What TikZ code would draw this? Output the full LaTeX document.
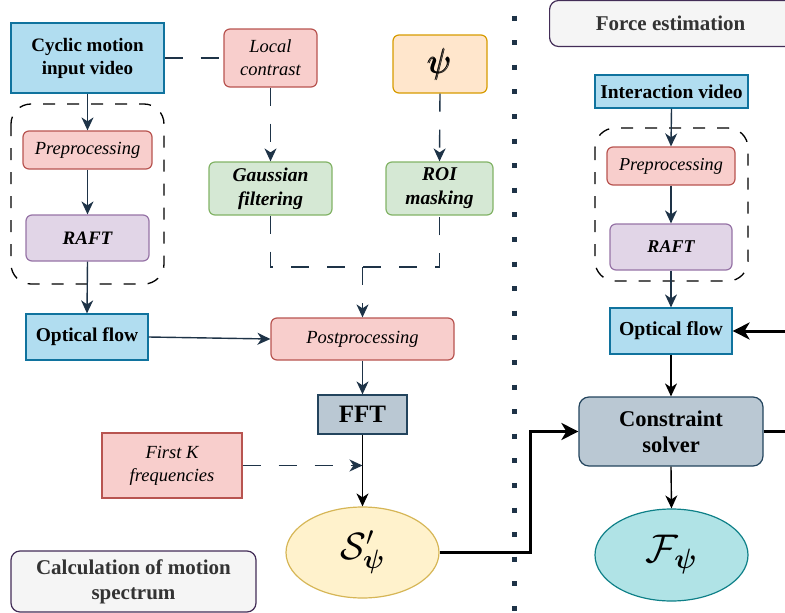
\RequirePackage{fix-cm}
\documentclass[tikz,border=0pt]{standalone}
\usepackage{amsmath}
\usepackage{fontspec}
\setmainfont{Liberation Serif}
\usetikzlibrary{arrows.meta,shapes.geometric}
\definecolor{bluef}{HTML}{B1DDF0}\definecolor{blued}{HTML}{10739E}
\definecolor{redf}{HTML}{F8CECC}\definecolor{redd}{HTML}{B85450}
\definecolor{oraf}{HTML}{FFE6CC}\definecolor{orad}{HTML}{D79B00}
\definecolor{grnf}{HTML}{D5E8D4}\definecolor{grnd}{HTML}{82B366}
\definecolor{purf}{HTML}{E1D5E7}\definecolor{purd}{HTML}{9673A6}
\definecolor{gbf}{HTML}{BAC8D3}\definecolor{gbd}{HTML}{23445D}
\definecolor{yelf}{HTML}{FFF2CC}\definecolor{yeld}{HTML}{D6B656}
\definecolor{tealf}{HTML}{B0E3E6}\definecolor{teald}{HTML}{0E8088}
\definecolor{labf}{HTML}{F5F5F5}\definecolor{labd}{HTML}{432D57}
\definecolor{labt}{HTML}{333333}
\definecolor{navy}{HTML}{1E3347}
\newcommand\myfs[2]{\fontsize{#1}{#2}\selectfont}
\begin{document}
\begin{tikzpicture}[x=1pt,y=-1pt,
  base/.style={draw,line width=1.2pt,align=center,inner sep=0pt},
  rbox/.style={base,rounded corners=6pt},
  bluebox/.style={base,fill=bluef,draw=blued},
  redbox/.style={rbox,fill=redf,draw=redd},
  grnbox/.style={rbox,fill=grnf,draw=grnd},
  purbox/.style={rbox,fill=purf,draw=purd},
  labbox/.style={rbox,rounded corners=9pt,fill=labf,draw=labd,text=labt,font=\bfseries},
  grp/.style={draw=black,line width=1.3pt,dash pattern=on 12pt off 12pt,rounded corners=20pt},
  arr/.style={draw=navy,line width=1.4pt,-{Stealth[length=13pt,width=12pt,inset=4pt]}},
  barr/.style={draw=black,line width=1.4pt,-{Stealth[length=13pt,width=12pt,inset=4pt]}},
  dcon/.style={draw=navy,line width=1.4pt,dash pattern=on 18pt off 18pt},
  thick3/.style={draw=black,line width=3pt},
  tarr/.style={thick3,-{Stealth[length=17pt,width=17pt,inset=5pt]}}
]
\useasboundingbox (0,0) rectangle (785,613);
\clip (0,0) rectangle (785,613);
% separator
\draw[navy,line width=5pt,dash pattern=on 5pt off 19.6pt] (514,15.5) -- (514,613);
% groups
\draw[grp] (11,104) rectangle (164,284);
\draw[grp] (595,128) rectangle (748,281);
% left nodes
\node[bluebox,minimum width=153pt,minimum height=70pt,font=\myfs{19}{23}\bfseries] (cyc) at (87.5,58) {Cyclic motion\\input video};
\node[redbox,minimum width=93pt,minimum height=58pt,font=\myfs{18.5}{23}\itshape] (loc) at (270.5,58) {Local\\contrast};
\node[rbox,fill=oraf,draw=orad,minimum width=94pt,minimum height=58pt,font=\myfs{35}{37}] (psi) at (440,64) {$\pmb{\psi}$};
\node[redbox,minimum width=129pt,minimum height=38pt,font=\myfs{18.5}{22}\itshape] (pre1) at (87.5,150) {Preprocessing};
\node[purbox,minimum width=123pt,minimum height=46pt,font=\myfs{19}{22}\bfseries\itshape] (raft1) at (87.5,238) {RAFT};
\node[grnbox,minimum width=123pt,minimum height=53pt,font=\myfs{19.5}{24}\bfseries\itshape] (gau) at (270.5,188.5) {Gaussian\\filtering};
\node[grnbox,minimum width=107pt,minimum height=53pt,font=\myfs{19.5}{24}\bfseries\itshape] (roi) at (439.5,188.5) {ROI\\masking};
\node[bluebox,minimum width=122pt,minimum height=46pt,font=\myfs{19.5}{22}\bfseries] (of1) at (87,337) {Optical flow};
\node[redbox,minimum width=183pt,minimum height=42pt,font=\myfs{18.5}{22}\itshape] (post) at (362.5,339) {Postprocessing};
\node[base,fill=gbf,draw=gbd,minimum width=89pt,minimum height=39pt,font=\myfs{25}{27}\bfseries] (fft) at (362.5,414.5) {FFT};
\node[base,fill=redf,draw=redd,minimum width=140pt,minimum height=65pt,font=\myfs{18.5}{23}\itshape] (fk) at (172,465.5) {First K\\frequencies};
\node[ellipse,base,fill=yelf,draw=yeld,minimum width=153pt,minimum height=91pt,font=\myfs{38}{40}] (S) at (362.5,552.5) {$\mathcal{S}'_{\boldsymbol{\psi}}$};
\node[labbox,minimum width=245pt,minimum height=61pt,font=\myfs{21}{25}\bfseries] (calc) at (133.5,581.5) {Calculation of motion\\spectrum};
% right nodes
\node[labbox,minimum width=251pt,minimum height=46pt,font=\myfs{21}{23}\bfseries,anchor=west] (force) at (549,23.5) {\hspace*{-9pt}Force estimation};
\node[bluebox,minimum width=153pt,minimum height=33pt,font=\myfs{19.5}{22}\bfseries] (iv) at (671.5,91.5) {Interaction video};
\node[redbox,minimum width=128pt,minimum height=38pt,font=\myfs{18.2}{21}\itshape] (pre2) at (671,166) {Preprocessing};
\node[purbox,minimum width=122pt,minimum height=46pt,font=\myfs{18}{21}\bfseries\itshape] (raft2) at (671,247) {RAFT};
\node[bluebox,minimum width=122pt,minimum height=46pt,font=\myfs{19.8}{22}\bfseries] (of2) at (671,331) {Optical flow};
\node[rbox,rounded corners=10pt,fill=gbf,draw=gbd,minimum width=184pt,minimum height=69pt,font=\myfs{22.5}{26}\bfseries] (cs) at (671,431.5) {Constraint\\solver};
\node[ellipse,base,fill=tealf,draw=teald,minimum width=153pt,minimum height=92pt,font=\myfs{40}{42}] (F) at (671.5,555) {$\mathcal{F}_{\boldsymbol{\psi}}$};
% coordinates
\coordinate (j) at (362.5,267);
\coordinate (bend) at (530,552.5);
\coordinate (rin) at (790,331);
\coordinate (rout) at (790,431.5);
% left connectors
\draw[dcon] (cyc.east) -- (loc.west);
\draw[arr,dash pattern=on 18pt off 18pt] (loc.south) -- (gau.north);
\draw[arr,dash pattern=on 18pt off 18pt] (psi.south) -- (roi.north);
\draw[dcon] (gau.south) -- (gau.south |- j) -- (roi.south |- j) -- (roi.south);
\draw[arr,dash pattern=on 18pt off 18pt] (j) -- (post.north);
\draw[arr] (cyc.south) -- (pre1.north);
\draw[arr] (pre1.south) -- (raft1.north);
\draw[arr] (raft1.south) -- (of1.north);
\draw[arr] (of1.east) -- (post.west);
\draw[arr] (post.south) -- (fft.north);
\draw[barr] (fft.south) -- (S.north);
\draw[arr,dash pattern=on 18pt off 18pt] (fk.east) -- (fk.east -| fft.south);
% right connectors
\draw[arr] (iv.south) -- (pre2.north);
\draw[arr] (pre2.south) -- (raft2.north);
\draw[arr] (raft2.south) -- (of2.north);
\draw[barr] (of2.south) -- (cs.north);
\draw[barr] (cs.south) -- (F.north);
\draw[tarr] (S.east) -- (bend) |- (cs.west);
\draw[tarr] (rin) -- (of2.east);
\draw[thick3] (cs.east) -- (rout);
\end{tikzpicture}
\end{document}
